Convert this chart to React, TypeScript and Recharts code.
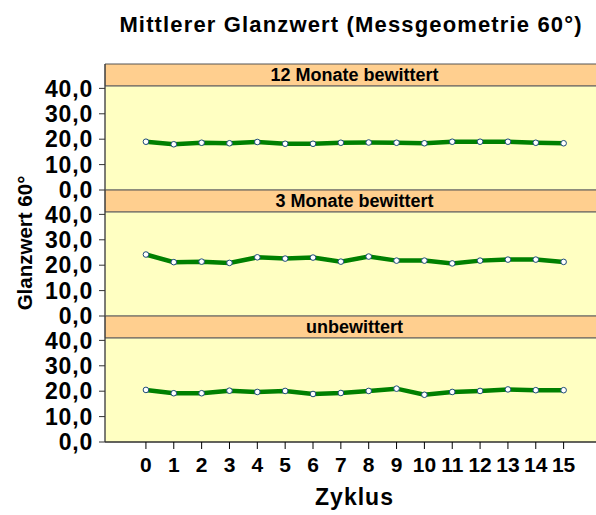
import { LineChart, Line, XAxis, YAxis, ReferenceArea } from 'recharts';

const zyklus = [0, 1, 2, 3, 4, 5, 6, 7, 8, 9, 10, 11, 12, 13, 14, 15];
const glanz12Monate = [19.0, 18.0, 18.6, 18.4, 18.9, 18.2, 18.2, 18.6, 18.7, 18.6, 18.4, 19.0, 19.0, 19.0, 18.6, 18.4];
const glanz3Monate = [24.2, 21.2, 21.4, 20.9, 23.1, 22.6, 23.0, 21.4, 23.4, 21.8, 21.8, 20.7, 21.8, 22.2, 22.2, 21.3];
const glanzUnbewittert = [20.5, 19.2, 19.2, 20.2, 19.7, 20.1, 18.9, 19.3, 20.1, 21.0, 18.6, 19.7, 20.1, 20.7, 20.4, 20.4];
const yTicks = [0, 10, 20, 30, 40];

const FONT = '"Liberation Sans", Arial, sans-serif';
const PAD = 14; // extra room so the 0,0 / 40,0 labels are not clipped
const PANEL_H = 126;

interface PanelProps {
  title: string;
  values: number[];
  top: number;
  showX?: boolean;
}

const fmt = (v: number) => v.toFixed(1).replace('.', ',');

function Panel({ title, values, top, showX }: PanelProps) {
  const data = zyklus.map((x, i) => ({ x, v: values[i] }));
  const xAxisH = 70;
  const height = PAD + PANEL_H + (showX ? xAxisH : PAD);

  return (
    <div style={{ position: 'absolute', left: 0, top: top - PAD }}>
      <LineChart
        width={606}
        height={height}
        data={data}
        margin={{ top: PAD, right: 2, left: 0, bottom: showX ? 0 : PAD }}
      >
        <XAxis
          type="number"
          dataKey="x"
          domain={[-1.47, 16.45]}
          ticks={zyklus}
          interval={0}
          hide={!showX}
          height={xAxisH}
          allowDataOverflow
          axisLine={{ stroke: '#000' }}
          tickLine={{ stroke: '#000' }}
          tickSize={7}
          tickMargin={8}
          tick={{ fontSize: 21, fontWeight: 'bold', fill: '#000', fontFamily: FONT }}
          label={{
            value: 'Zyklus',
            position: 'insideBottom',
            offset: 7,
            fontSize: 23,
            fontWeight: 'bold',
            fill: '#000',
            fontFamily: FONT,
            letterSpacing: 1,
          }}
        />
        <YAxis
          width={105}
          domain={[0, 49.6]}
          ticks={yTicks}
          interval={0}
          allowDataOverflow
          axisLine={{ stroke: '#333' }}
          tickLine={{ stroke: '#333' }}
          tickSize={6}
          tickMargin={6}
          tickFormatter={fmt}
          tick={{ fontSize: 23, fontWeight: 'bold', fill: '#000', fontFamily: FONT, letterSpacing: 0.8 }}
        />
        <ReferenceArea y1={0} y2={41} fill="#FFFFC2" fillOpacity={1} stroke="#8a8a8a" />
        <ReferenceArea
          y1={41}
          y2={49.6}
          fill="#FFCF8F"
          fillOpacity={1}
          stroke="#555"
          label={{
            value: title,
            position: 'center',
            fontSize: 18,
            fontWeight: 'bold',
            fill: '#000',
            fontFamily: FONT,
          }}
        />
        <Line
          dataKey="v"
          type="linear"
          stroke="#008000"
          strokeWidth={4.5}
          dot={{ r: 2.8, fill: '#fff', stroke: '#1f4a7a', strokeWidth: 1 }}
          isAnimationActive={false}
        />
      </LineChart>
    </div>
  );
}

export default function App() {
  return (
    <div
      style={{
        position: 'absolute',
        left: 0,
        top: 0,
        width: 596,
        height: 515,
        overflow: 'hidden',
        background: '#fff',
      }}
    >
      <Panel title="12 Monate bewittert" values={glanz12Monate} top={64} />
      <Panel title="3 Monate bewittert" values={glanz3Monate} top={190} />
      <Panel title="unbewittert" values={glanzUnbewittert} top={316} showX />
      <svg
        width={596}
        height={515}
        style={{ position: 'absolute', left: 0, top: 0, pointerEvents: 'none' }}
      >
        <text
          x={351}
          y={32}
          textAnchor="middle"
          fontSize={22}
          fontWeight="bold"
          fontFamily={FONT}
          letterSpacing={1.15}
        >
          Mittlerer Glanzwert (Messgeometrie 60°)
        </text>
        <text
          transform="translate(32,243) rotate(-90)"
          textAnchor="middle"
          fontSize={20.5}
          fontWeight="bold"
          fontFamily={FONT}
        >
          Glanzwert 60°
        </text>
      </svg>
    </div>
  );
}
